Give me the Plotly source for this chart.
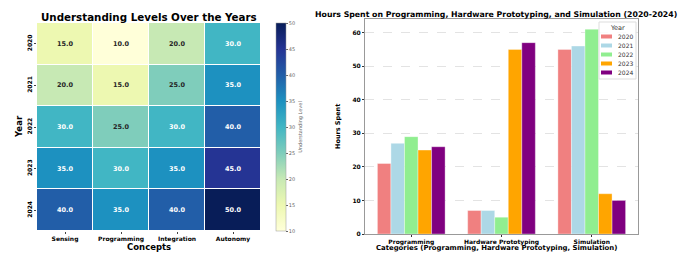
import plotly.graph_objects as go

# Heatmap data
concepts = ["Sensing", "Programming", "Integration", "Autonomy"]
years = ["2020", "2021", "2022", "2023", "2024"]
levels = [
    [15, 10, 20, 30],
    [20, 15, 25, 35],
    [30, 25, 30, 40],
    [35, 30, 35, 45],
    [40, 35, 40, 50],
]

# Bar data
categories = ["Programming", "Hardware Prototyping", "Simulation"]
bar_years = ["2020", "2021", "2022", "2023", "2024"]
hours_2020 = [21, 7, 55]
hours_2021 = [27, 7, 56]
hours_2022 = [29, 5, 61]
hours_2023 = [25, 55, 12]
hours_2024 = [26, 57, 10]
bar_colors = ["#F08080", "#ADD8E6", "#90EE90", "#FFA500", "#800080"]

FONT = "DejaVu Sans"
W, H = 692, 253
fig = go.Figure()

fig.add_trace(go.Heatmap(
    z=levels, x=concepts, y=years, colorscale="YlGnBu", zmin=10, zmax=50,
    xgap=1, ygap=1, xaxis="x", yaxis="y", showscale=True,
    colorbar=dict(x=276 / W, xanchor="left", xpad=0, ypad=0, y=1 - 127 / H, yanchor="middle",
                  len=208 / H, lenmode="fraction",
                  thickness=10, outlinewidth=0.5, outlinecolor="#999",
                  tickvals=[10, 15, 20, 25, 30, 35, 40, 45, 50], ticks="outside", ticklen=2,
                  tickcolor="#666", tickfont=dict(family=FONT, size=5, color="#666"),
                  title=dict(text="Understanding Level", side="right", font=dict(family=FONT, size=5, color="#666"))),
    hoverinfo="skip",
))

annotations = []
for i, y in enumerate(years):
    for j, c in enumerate(concepts):
        v = levels[i][j]
        annotations.append(dict(x=j, y=i, xref="x", yref="y", text=f"{v:.1f}", showarrow=False,
                                font=dict(family=FONT, size=6.5, weight="bold",
                                          color="white" if v >= 30 else "#262626")))

series = [hours_2020, hours_2021, hours_2022, hours_2023, hours_2024]
for name, vals, col in zip(bar_years, series, bar_colors):
    fig.add_trace(go.Bar(x=categories, y=vals, name=name,
                         marker=dict(color=col, line=dict(color="rgba(255,255,255,0.6)", width=0.6)),
                         xaxis="x2", yaxis="y2", width=0.15, showlegend=False))

# custom compact legend (Year)
shapes = [dict(type="rect", xref="paper", yref="paper", x0=599 / W, x1=636 / W, y0=1 - 79 / H, y1=1 - 22 / H,
               line=dict(color="#ddd", width=1), fillcolor="rgba(255,255,255,0.85)", layer="above")]
annotations.append(dict(text="Year", x=617.5 / W, y=1 - 28 / H, xref="paper", yref="paper",
                        showarrow=False, xanchor="center", yanchor="middle",
                        font=dict(family=FONT, size=6.5, color="#333")))
for k, (name, col) in enumerate(zip(bar_years, bar_colors)):
    yc = 36.5 + 9 * k
    shapes.append(dict(type="rect", xref="paper", yref="paper", x0=601 / W, x1=612 / W,
                       y0=1 - (yc + 2) / H, y1=1 - (yc - 2) / H, line=dict(width=0), fillcolor=col,
                       layer="above"))
    annotations.append(dict(text=name, x=616 / W, y=1 - yc / H, xref="paper", yref="paper",
                            showarrow=False, xanchor="left", yanchor="middle",
                            font=dict(family=FONT, size=6, color="#333")))

# titles and axis labels
annotations += [
    dict(text="Understanding Levels Over the Years", x=149 / W, y=1 - 17 / H, xref="paper", yref="paper",
         xanchor="center", yanchor="middle", showarrow=False, font=dict(family=FONT, size=10.3, weight="bold")),
    dict(text="Hours Spent on Programming, Hardware Prototyping, and Simulation (2020-2024)", x=496 / W,
         y=1 - 14 / H, xref="paper", yref="paper", xanchor="center", yanchor="middle", showarrow=False,
         font=dict(family=FONT, size=7.8, weight="bold")),
    dict(text="Concepts", x=149 / W, y=1 - 246.5 / H, xref="paper", yref="paper", xanchor="center",
         yanchor="middle", showarrow=False, font=dict(family=FONT, size=8.5, weight="bold")),
    dict(text="Year", x=19 / W, y=1 - 127 / H, xref="paper", yref="paper", xanchor="center", textangle=-90,
         yanchor="middle", showarrow=False, font=dict(family=FONT, size=8.5, weight="bold")),
    dict(text="Categories (Programming, Hardware Prototyping, Simulation)", x=496 / W, y=1 - 248 / H,
         xref="paper", yref="paper", xanchor="center", yanchor="middle", showarrow=False,
         font=dict(family=FONT, size=6.9, weight="bold")),
    dict(text="Hours Spent", x=338 / W, y=1 - 127 / H, xref="paper", yref="paper", xanchor="center",
         textangle=-90, yanchor="middle", showarrow=False, font=dict(family=FONT, size=6.5, weight="bold")),
]

fig.update_layout(
    width=W, height=H, margin=dict(l=0, r=0, t=0, b=0, autoexpand=False),
    paper_bgcolor="white", plot_bgcolor="white",
    font=dict(family=FONT, color="black"),
    barmode="group", bargap=0.25, bargroupgap=0, showlegend=False,
    xaxis=dict(domain=[37 / W, 261 / W], anchor="y", type="category", range=[-0.5, 3.5], showgrid=False,
               zeroline=False, ticks="outside", ticklen=2, tickfont=dict(family=FONT, size=6, weight="bold")),
    yaxis=dict(domain=[1 - 231 / H, 1 - 23 / H], anchor="x", type="category", range=[4.5, -0.5],
               showgrid=False, zeroline=False, ticks="outside", ticklen=2, tickangle=-90,
               tickfont=dict(family=FONT, size=6, weight="bold")),
    xaxis2=dict(domain=[365 / W, 638 / W], anchor="y2", range=[-0.5125, 2.5125], showline=True, mirror=True,
                linecolor="#999", linewidth=1, ticks="outside", ticklen=2, tickcolor="#333",
                tickfont=dict(family=FONT, size=6, weight="bold"), showgrid=False),
    yaxis2=dict(domain=[1 - 234 / H, 1 - 19 / H], anchor="x2", range=[0, 64.05], showline=True, mirror=True,
                linecolor="#999", linewidth=1, ticks="outside", ticklen=2, tickcolor="#333",
                tickvals=[0, 10, 20, 30, 40, 50, 60], tickfont=dict(family=FONT, size=6, weight="bold"),
                showgrid=True, gridcolor="#e3e3e3", griddash="dash", gridwidth=0.6, zeroline=False),
    shapes=shapes,
    annotations=annotations,
)

fig.write_html("out.html", config={"displayModeBar": False},
               post_script="document.body.style.margin='0';document.body.style.overflow='hidden';")
